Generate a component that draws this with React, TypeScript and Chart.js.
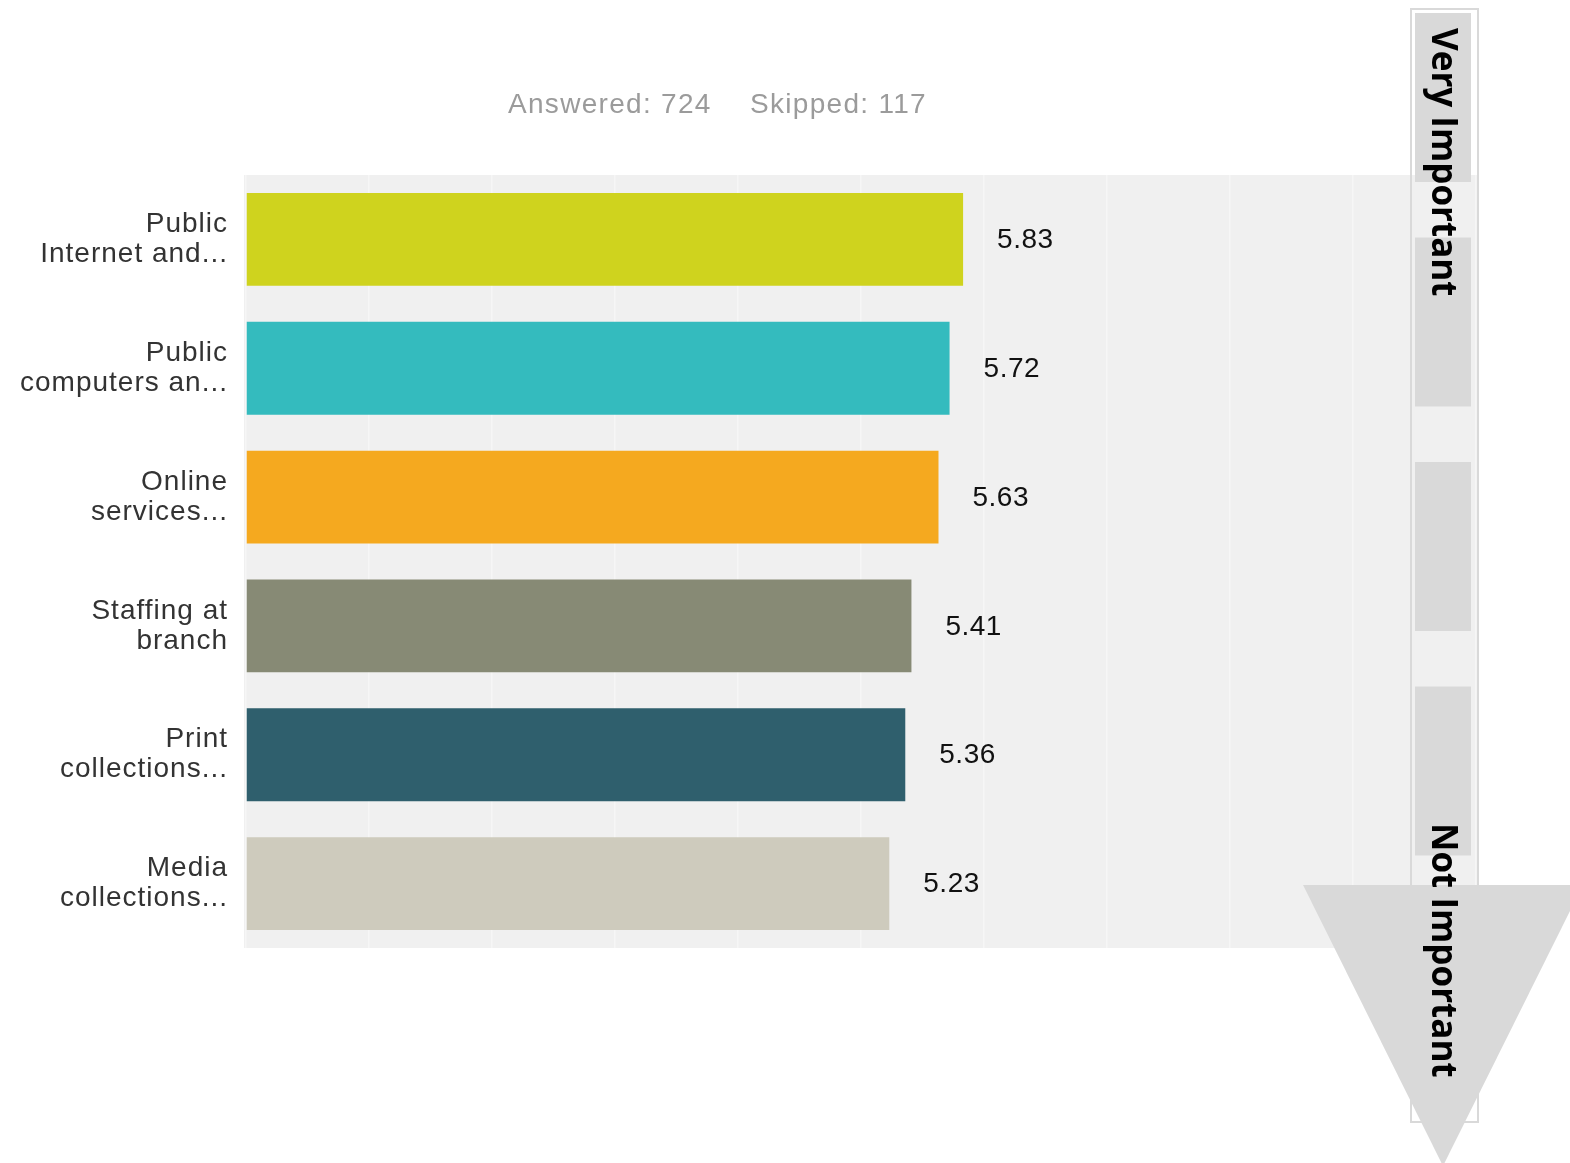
import React, { useEffect, useRef } from "react";
import { Chart, registerables } from "chart.js";

Chart.register(...registerables);

const categories: string[][] = [
  ["Public", "Internet and..."],
  ["Public", "computers an..."],
  ["Online", "services..."],
  ["Staffing at", "branch"],
  ["Print", "collections..."],
  ["Media", "collections..."],
];
const values: number[] = [5.83, 5.72, 5.63, 5.41, 5.36, 5.23];
const barColors: string[] = ["#cfd31e", "#34bbbe", "#f5a91f", "#878a75", "#2f5f6d", "#cecbbd"];
const answeredCount = 724;
const skippedCount = 117;
const scaleEndLabels: string[] = ["Very Important", "Not Important"];
const axisMin = 0;
const axisMax = 10;

const W = 1570;
const H = 1163;

const plotBgPlugin = {
  id: "plotBg",
  beforeDraw(chart: any) {
    const { ctx, chartArea } = chart;
    (ctx as any).letterSpacing = "1px";
    ctx.save();
    ctx.fillStyle = "#f0f0f0";
    ctx.fillRect(chartArea.left - 2, chartArea.top, chartArea.right - chartArea.left + 3, chartArea.bottom - chartArea.top);
    ctx.restore();
  },
};

const valueLabelPlugin = {
  id: "valueLabels",
  afterDatasetsDraw(chart: any) {
    const { ctx } = chart;
    const meta = chart.getDatasetMeta(0);
    ctx.save();
    (ctx as any).letterSpacing = "0.5px";
    ctx.font = "28px 'Liberation Sans', Arial, sans-serif";
    ctx.fillStyle = "#111111";
    ctx.textBaseline = "middle";
    ctx.textAlign = "left";
    meta.data.forEach((bar: any, i: number) => {
      ctx.fillText(values[i].toFixed(2), bar.x + 34, bar.y + 1);
    });
    ctx.restore();
  },
};

const headerPlugin = {
  id: "header",
  afterDraw(chart: any) {
    const { ctx } = chart;
    ctx.save();
    (ctx as any).letterSpacing = "1.3px";
    ctx.font = "28px 'Liberation Sans', Arial, sans-serif";
    ctx.fillStyle = "#9b9b9b";
    ctx.textBaseline = "middle";
    ctx.textAlign = "left";
    ctx.fillText(`Answered: ${answeredCount}`, 508, 105);
    ctx.fillText(`Skipped: ${skippedCount}`, 750, 105);
    ctx.restore();
  },
};

const scaleOverlayPlugin = {
  id: "scaleOverlay",
  afterDraw(chart: any) {
    const { ctx } = chart;
    ctx.save();
    (ctx as any).letterSpacing = "0px";
    // outline box
    ctx.strokeStyle = "#d9d9d9";
    ctx.lineWidth = 2;
    ctx.strokeRect(1411, 9, 67, 1113);
    // stripes
    ctx.fillStyle = "#d9d9d9";
    for (let k = 0; k < 5; k++) {
      const y0 = 13 + k * 224.5;
      ctx.fillRect(1415, y0, 56, 169);
    }
    // triangle
    ctx.beginPath();
    ctx.moveTo(1303, 885);
    ctx.lineTo(1583, 885);
    ctx.lineTo(1443, 1166);
    ctx.closePath();
    ctx.fillStyle = "#d9d9d9";
    ctx.fill();
    // rotated labels
    ctx.fillStyle = "#000000";
    ctx.font = "bold 35px 'Open Sans', 'Noto Sans', sans-serif";
    ctx.textBaseline = "alphabetic";
    ctx.textAlign = "left";
    const spots = [
      { x: 1432, y: 28 },
      { x: 1432, y: 823 },
    ];
    scaleEndLabels.forEach((t, i) => {
      ctx.save();
      ctx.translate(spots[i].x, spots[i].y);
      ctx.rotate(Math.PI / 2);
      ctx.fillText(t, 0, 0);
      ctx.restore();
    });
    ctx.restore();
  },
};

export default function App() {
  const canvasRef = useRef<HTMLCanvasElement | null>(null);

  useEffect(() => {
    if (!canvasRef.current) return;
    const chart = new Chart(canvasRef.current, {
      type: "bar",
      data: {
        labels: categories,
        datasets: [
          {
            data: values,
            backgroundColor: barColors,
            borderWidth: 0,
            barPercentage: 0.72,
            categoryPercentage: 1,
          },
        ],
      },
      options: {
        indexAxis: "y",
        responsive: false,
        animation: false,
        devicePixelRatio: 1,
        layout: { padding: { left: 0, right: 94, top: 175, bottom: 215 } },
        scales: {
          x: {
            min: axisMin,
            max: axisMax,
            display: true,
            ticks: { display: false, stepSize: 1 },
            grid: { color: "rgba(255,255,255,0.4)", lineWidth: 1.5, drawTicks: false },
            border: { display: false },
            afterFit: (s: any) => {
              s.height = 0;
            },
          },
          y: {
            grid: { display: false, drawTicks: false },
            border: { display: false },
            ticks: {
              color: "#333333",
              padding: 18,
              font: { family: "'Liberation Sans', Arial, sans-serif", size: 28, lineHeight: "30px" },
            },
            afterFit: (s: any) => {
              s.width = 246;
            },
          },
        },
        plugins: {
          legend: { display: false },
          tooltip: { enabled: false },
          title: { display: false },
        },
      },
      plugins: [plotBgPlugin, valueLabelPlugin, headerPlugin, scaleOverlayPlugin],
    } as any);
    return () => chart.destroy();
  }, []);

  return (
    <div style={{ position: "absolute", left: 0, top: 0, width: W, height: H, background: "#ffffff" }}>
      <canvas ref={canvasRef} width={W} height={H} style={{ display: "block" }} />
    </div>
  );
}
